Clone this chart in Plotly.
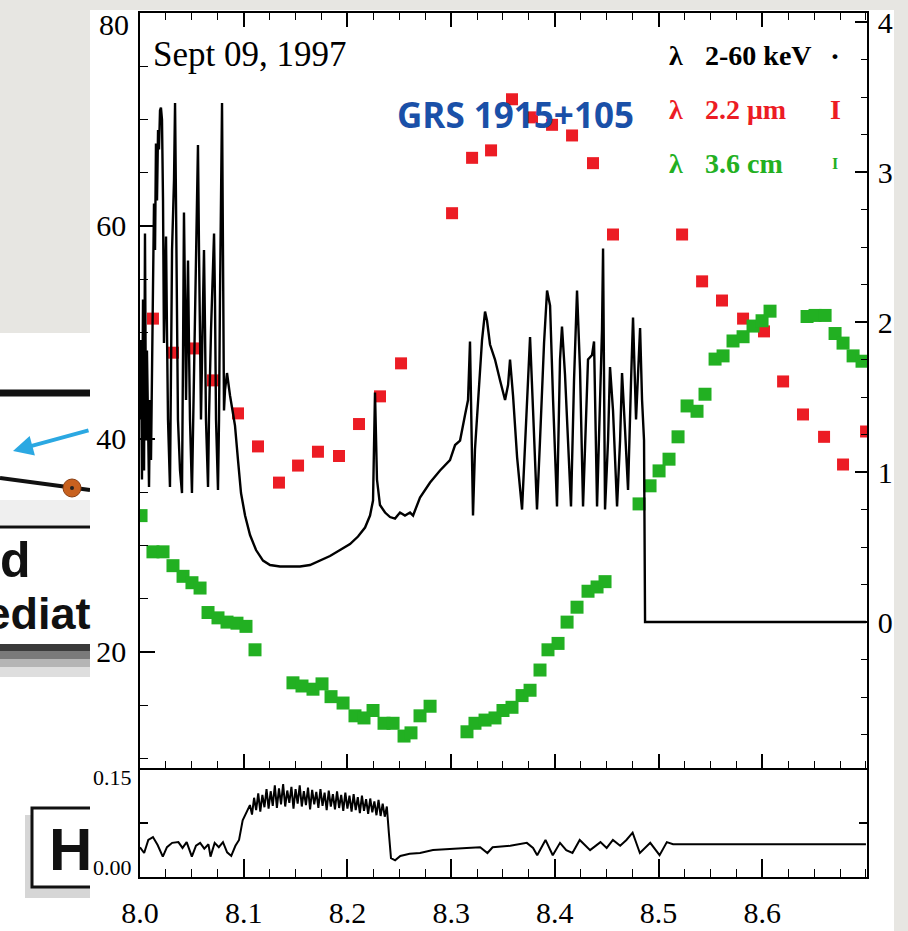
import plotly.graph_objects as go

# ---------------- data ----------------
# X-ray 2-60 keV count rate (right axis, 10^4 counts/s) vs UT hours
xray_t = [8.0000, 8.0010, 8.0019, 8.0029, 8.0039, 8.0048, 8.0058, 8.0067, 8.0087, 8.0096,
          8.0106, 8.0116, 8.0125, 8.0135, 8.0145, 8.0154, 8.0164, 8.0174, 8.0183, 8.0193,
          8.0202, 8.0212, 8.0222, 8.0231, 8.0241, 8.0251, 8.0260, 8.0270, 8.0289, 8.0299,
          8.0309, 8.0328, 8.0338, 8.0347, 8.0357, 8.0366, 8.0386, 8.0405, 8.0415, 8.0424,
          8.0434, 8.0444, 8.0453, 8.0463, 8.0473, 8.0482, 8.0501, 8.0511, 8.0530, 8.0550,
          8.0559, 8.0569, 8.0579, 8.0588, 8.0598, 8.0608, 8.0617, 8.0627, 8.0636, 8.0656,
          8.0665, 8.0685, 8.0704, 8.0714, 8.0723, 8.0733, 8.0752, 8.0762, 8.0771, 8.0781,
          8.0791, 8.0800, 8.0810, 8.0820, 8.0839,
          8.0868, 8.0916, 8.0945, 8.0974, 8.1013, 8.1061, 8.1119, 8.1186, 8.1254, 8.1350,
          8.1446, 8.1543, 8.1639, 8.1736, 8.1832, 8.1929, 8.2025, 8.2102, 8.2170, 8.2218,
          8.2247, 8.2266, 8.2285, 8.2314, 8.2363, 8.2411, 8.2459, 8.2507, 8.2555, 8.2604,
          8.2633, 8.2700, 8.2797, 8.2893, 8.2989, 8.3038, 8.3086, 8.3134, 8.3163, 8.3182,
          8.3192, 8.3211, 8.3230, 8.3259, 8.3298, 8.3327, 8.3346, 8.3375, 8.3423, 8.3472,
          8.3520, 8.3549, 8.3568, 8.3597, 8.3636, 8.3684, 8.3722, 8.3761, 8.3790, 8.3828,
          8.3857, 8.3896, 8.3925, 8.3954, 8.3983, 8.4021, 8.4050, 8.4069, 8.4098, 8.4127,
          8.4156, 8.4185, 8.4214, 8.4243, 8.4272, 8.4320, 8.4359, 8.4378, 8.4407, 8.4436,
          8.4455, 8.4465, 8.4474, 8.4484, 8.4513, 8.4532, 8.4561, 8.4600, 8.4629, 8.4648,
          8.4677, 8.4706, 8.4735, 8.4754, 8.4783, 8.4822, 8.4841, 8.4860, 8.4870, 8.7000]
xray_r = [1.35, 1.88, 0.95, 2.15, 1.01, 2.59, 1.21, 1.81, 0.90, 1.48,
          1.08, 1.95, 2.21, 2.79, 2.48, 3.19, 2.81, 3.28, 3.15, 3.41,
          3.43, 3.35, 2.81, 1.86, 2.15, 2.57, 1.95, 1.35, 0.90, 1.75,
          2.48, 2.95, 3.46, 2.81, 1.95, 1.35, 1.01, 0.86, 1.81, 2.73,
          2.15, 1.48, 1.95, 2.41, 1.81, 1.35, 0.86, 1.28, 2.15, 2.81,
          3.18, 2.48, 1.81, 1.35, 1.75, 2.15, 2.48, 1.95, 1.35, 0.90,
          1.35, 1.95, 2.41, 2.59, 2.15, 1.35, 0.88, 1.35, 2.15, 2.81,
          3.46, 2.48, 1.41, 1.55, 1.66,
          1.51, 1.31, 1.08, 0.86, 0.71, 0.58, 0.48, 0.41, 0.38, 0.37,
          0.37, 0.37, 0.38, 0.41, 0.44, 0.48, 0.52, 0.57, 0.63, 0.71,
          0.81, 1.53, 0.95, 0.78, 0.73, 0.70, 0.69, 0.73, 0.71, 0.73,
          0.71, 0.83, 0.93, 1.01, 1.08, 1.18, 1.21, 1.38, 1.48, 1.87,
          1.35, 0.71, 1.15, 1.48, 1.88, 2.07, 2.01, 1.85, 1.75, 1.61,
          1.48, 1.58, 1.75, 1.51, 1.10, 0.75, 1.35, 1.90, 1.41, 0.75,
          1.21, 1.86, 2.21, 2.11, 1.48, 0.77, 1.75, 1.97, 1.65, 1.15,
          0.77, 1.61, 2.21, 1.68, 0.77, 1.75, 1.78, 1.87, 0.77, 1.48,
          1.95, 2.49, 1.81, 0.75, 1.21, 1.70, 1.41, 0.77, 1.21, 1.66,
          1.28, 0.88, 1.61, 2.03, 1.35, 1.96, 1.48, 1.21, 0.00, 0.00]

# Infrared 2.2 micron flux (left axis, mJy)
ir_t = [8.0125, 8.0318, 8.0530, 8.0704, 8.0945, 8.1138, 8.1340, 8.1524, 8.1716, 8.1919,
        8.2112, 8.2314, 8.2517, 8.3009, 8.3202, 8.3385, 8.3587, 8.3780, 8.3973, 8.4166,
        8.4368, 8.4561, 8.5227, 8.5420, 8.5612, 8.5815, 8.6017, 8.6201, 8.6393, 8.6596,
        8.6779, 8.7001]
ir_v = [51.3, 48.1, 48.5, 45.5, 42.4, 39.3, 35.9, 37.5, 38.8, 38.4,
        41.4, 44.0, 47.1, 61.2, 66.4, 67.1, 71.9, 70.2, 69.5, 68.5,
        65.9, 59.2, 59.2, 54.8, 53.0, 51.3, 50.1, 45.4, 42.3, 40.2,
        37.6, 40.7]

# Radio 3.6 cm flux (left axis, mJy)
radio_t = [8.0010, 8.0125, 8.0222, 8.0318, 8.0415, 8.0501, 8.0579, 8.0656, 8.0752, 8.0839,
           8.0935, 8.1022, 8.1109, 8.1475, 8.1562, 8.1668, 8.1755, 8.1842, 8.1958, 8.2073,
           8.2160, 8.2247, 8.2353, 8.2440, 8.2546, 8.2613, 8.2700, 8.2797, 8.3153, 8.3230,
           8.3327, 8.3423, 8.3500, 8.3587, 8.3684, 8.3761, 8.3857, 8.3934, 8.4031, 8.4118,
           8.4214, 8.4320, 8.4407, 8.4484, 8.4812, 8.4918, 8.5005, 8.5101, 8.5188, 8.5275,
           8.5371, 8.5448, 8.5545, 8.5622, 8.5718, 8.5815, 8.5911, 8.5998, 8.6075, 8.6432,
           8.6509, 8.6606, 8.6702, 8.6779, 8.6876, 8.6962]
radio_v = [32.8, 29.4, 29.4, 28.1, 27.1, 26.5, 26.0, 23.7, 23.2, 22.8,
           22.7, 22.4, 20.2, 17.1, 16.8, 16.5, 17.0, 15.8, 15.2, 14.0,
           13.8, 14.5, 13.3, 13.3, 12.1, 12.4, 14.0, 14.9, 12.5, 13.3,
           13.6, 13.8, 14.5, 14.8, 15.9, 16.4, 18.3, 20.2, 20.8, 22.8,
           24.2, 25.7, 26.1, 26.6, 33.9, 35.6, 37.0, 38.1, 40.2, 43.1,
           42.6, 44.2, 47.5, 47.8, 49.2, 49.6, 50.6, 51.1, 52.0, 51.5,
           51.6, 51.6, 49.9, 49.0, 47.8, 47.3]

# X-ray hardness ratio (lower panel)
hr_t = [8.000, 8.004, 8.008, 8.0125, 8.017, 8.022, 8.026, 8.031, 8.037, 8.041,
        8.045, 8.050, 8.054, 8.058, 8.062, 8.066, 8.068, 8.072, 8.076, 8.080,
        8.084, 8.088, 8.092, 8.0955, 8.099, 8.103, 8.106,
        8.108, 8.110, 8.112, 8.114, 8.116, 8.118, 8.120, 8.122, 8.124, 8.126,
        8.128, 8.130, 8.132, 8.134, 8.136, 8.138, 8.140, 8.142, 8.144, 8.146,
        8.148, 8.150, 8.152, 8.154, 8.156, 8.158, 8.160, 8.162, 8.164, 8.166,
        8.168, 8.170, 8.172, 8.174, 8.176, 8.178, 8.180, 8.182, 8.184, 8.186,
        8.188, 8.190, 8.192, 8.194, 8.196, 8.198, 8.200, 8.202, 8.204, 8.206,
        8.208, 8.210, 8.212, 8.214, 8.216, 8.218, 8.220, 8.222, 8.224, 8.226,
        8.228, 8.230, 8.232, 8.234, 8.236, 8.238, 8.240, 8.242, 8.246, 8.251,
        8.260, 8.270, 8.2825, 8.299, 8.315, 8.328, 8.335, 8.340, 8.357, 8.373,
        8.379, 8.383, 8.391, 8.398, 8.405, 8.411, 8.417, 8.424, 8.434, 8.444,
        8.450, 8.456, 8.463, 8.469, 8.475, 8.482, 8.492, 8.501, 8.508, 8.514,
        8.700]
hr_v = [0.041, 0.033, 0.051, 0.055, 0.044, 0.028, 0.041, 0.047, 0.048, 0.040,
        0.048, 0.028, 0.043, 0.047, 0.039, 0.045, 0.028, 0.047, 0.041, 0.048,
        0.034, 0.029, 0.043, 0.051, 0.078, 0.089, 0.099,
        0.086, 0.109, 0.092, 0.115, 0.090, 0.113, 0.096, 0.121, 0.094, 0.118,
        0.098, 0.126, 0.095, 0.122, 0.100, 0.128, 0.097, 0.119, 0.102, 0.124,
        0.094, 0.121, 0.101, 0.126, 0.097, 0.118, 0.099, 0.123, 0.093, 0.120,
        0.100, 0.117, 0.095, 0.121, 0.098, 0.116, 0.092, 0.119, 0.097, 0.114,
        0.093, 0.118, 0.095, 0.113, 0.091, 0.116, 0.094, 0.112, 0.090, 0.114,
        0.092, 0.110, 0.088, 0.112, 0.091, 0.107, 0.087, 0.108, 0.089, 0.104,
        0.085, 0.106, 0.084, 0.101, 0.083, 0.097, 0.060, 0.026, 0.023, 0.029,
        0.032, 0.033, 0.037, 0.039, 0.040, 0.041, 0.033, 0.041, 0.043, 0.047,
        0.040, 0.030, 0.051, 0.030, 0.047, 0.037, 0.033, 0.051, 0.037, 0.048,
        0.040, 0.051, 0.043, 0.051, 0.061, 0.033, 0.047, 0.030, 0.048, 0.045,
        0.045]

x_tickvals = [8.0, 8.1, 8.2, 8.3, 8.4, 8.5, 8.6]
x_ticktext = ["8.0", "8.1", "8.2", "8.3", "8.4", "8.5", "8.6"]
left_tickvals = [20, 40, 60, 80]
left_ticktext = ["20", "40", "60", ""]
right_tickvals = [0, 1, 2, 3, 4]
right_ticktext = ["0", "1", "2", "3", "4"]
hr_tickvals = [0.0, 0.075, 0.15]

# ---------------- layout geometry helpers (pixels -> paper) ----------------
W, H = 908, 931
ML, MR, MT, MB = 140, 41, 13, 54
PW, PH = W - ML - MR, H - MT - MB
SPLIT = 109 / PH


def px(x):
    return (x - ML) / PW


def py(y):
    return (H - MB - y) / PH


SERIF = "Liberation Serif"
SANS = "Liberation Sans"
RED = "#ec1c24"
GREEN = "#22b022"
BG = "#e7e6e2"

fig = go.Figure()
fig.add_trace(go.Scatter(x=ir_t, y=ir_v, xaxis="x", yaxis="y", mode="markers",
                         marker=dict(symbol="square", size=12, color=RED, line=dict(width=0)),
                         showlegend=False))
fig.add_trace(go.Scatter(x=radio_t, y=radio_v, xaxis="x", yaxis="y", mode="markers",
                         marker=dict(symbol="square", size=13, color=GREEN, line=dict(width=0)),
                         showlegend=False))
fig.add_trace(go.Scatter(x=xray_t, y=xray_r, xaxis="x", yaxis="y2", mode="lines",
                         line=dict(color="black", width=2.4), showlegend=False))
fig.add_trace(go.Scatter(x=hr_t, y=hr_v, xaxis="x2", yaxis="y3", mode="lines",
                         line=dict(color="black", width=2.0), showlegend=False))

axis_common = dict(showgrid=False, zeroline=False, showline=True, linecolor="black",
                   linewidth=1.6, ticks="inside", tickcolor="black", tickwidth=1.6,
                   automargin=False)

fig.update_layout(
    template="none",
    width=W, height=H,
    margin=dict(l=ML, r=MR, t=MT, b=MB, pad=0, autoexpand=False),
    paper_bgcolor=BG, plot_bgcolor="white",
    showlegend=False,
    xaxis=dict(domain=[0, 1], anchor="y", range=[8.0, 8.701], tickmode="array",
               tickvals=x_tickvals, showticklabels=False, ticklen=14, mirror="ticks",
               minor=dict(ticks="inside", dtick=0.025, tick0=8.0, ticklen=7,
                          tickcolor="black", tickwidth=1.4),
               **axis_common),
    xaxis2=dict(domain=[0, 1], anchor="y3", matches="x", range=[8.0, 8.701],
                tickmode="array", tickvals=x_tickvals, ticktext=x_ticktext,
                ticklen=18, ticklabelstandoff=8,
                tickfont=dict(family=SERIF, size=30, color="black"),
                minor=dict(ticks="inside", dtick=0.025, tick0=8.0, ticklen=8,
                           tickcolor="black", tickwidth=1.4),
                **axis_common),
    yaxis=dict(domain=[SPLIT, 1], anchor="x", range=[9.1, 80], tickmode="array",
               tickvals=left_tickvals, ticktext=left_ticktext, ticklen=15,
               ticklabelstandoff=6,
               tickfont=dict(family=SERIF, size=30, color="black"),
               minor=dict(ticks="inside", dtick=5, tick0=0, ticklen=8,
                          tickcolor="black", tickwidth=1.4),
               **axis_common),
    yaxis2=dict(overlaying="y", side="right", anchor="x", range=[-0.973, 4.06],
                tickmode="array", tickvals=right_tickvals, ticktext=right_ticktext,
                ticklen=12, ticklabelstandoff=3,
                tickfont=dict(family=SERIF, size=30, color="black"),
                minor=dict(ticks="inside", dtick=0.25, tick0=0, ticklen=6,
                           tickcolor="black", tickwidth=1.4),
                **axis_common),
    yaxis3=dict(domain=[0, SPLIT], anchor="x2", range=[0, 0.15], tickmode="array",
                tickvals=hr_tickvals, showticklabels=False, ticklen=8, mirror="ticks",
                **axis_common),
)

shapes = []
# slide background pieces (left) and white scanned-figure panel
shapes.append(dict(type="rect", xref="paper", yref="paper", layer="below",
                   x0=px(0), x1=px(90), y0=py(333), y1=py(931),
                   fillcolor="white", line=dict(width=0)))
shapes.append(dict(type="rect", xref="paper", yref="paper", layer="below",
                   x0=px(0), x1=px(90), y0=py(500), y1=py(525),
                   fillcolor="#efefef", line=dict(width=0)))
shapes.append(dict(type="line", xref="paper", yref="paper", layer="below",
                   x0=px(0), x1=px(90), y0=py(393), y1=py(393),
                   line=dict(color="#111111", width=7)))
shapes.append(dict(type="line", xref="paper", yref="paper", layer="below",
                   x0=px(0), x1=px(90), y0=py(478), y1=py(490),
                   line=dict(color="#111111", width=4)))
shapes.append(dict(type="line", xref="paper", yref="paper", layer="below",
                   x0=px(0), x1=px(90), y0=py(527), y1=py(527),
                   line=dict(color="#111111", width=3)))
shapes.append(dict(type="circle", xref="paper", yref="paper", layer="below",
                   x0=px(63), x1=px(81), y0=py(479), y1=py(497),
                   fillcolor="#c8611f", line=dict(color="#8a3e12", width=1)))
shapes.append(dict(type="circle", xref="paper", yref="paper", layer="below",
                   x0=px(70), x1=px(74), y0=py(486), y1=py(490),
                   fillcolor="#222222", line=dict(width=0)))
for (ya, yb, col) in [(644, 651, "#3a3a3a"), (651, 659, "#7a7a7a"),
                      (659, 667, "#b5b5b5"), (667, 677, "#dedede")]:
    shapes.append(dict(type="rect", xref="paper", yref="paper", layer="below",
                       x0=px(0), x1=px(90), y0=py(yb), y1=py(ya),
                       fillcolor=col, line=dict(width=0)))
shapes.append(dict(type="rect", xref="paper", yref="paper", layer="below",
                   x0=px(25), x1=px(92), y0=py(898), y1=py(815),
                   fillcolor="#d6d6d6", line=dict(width=0)))
shapes.append(dict(type="rect", xref="paper", yref="paper", layer="below",
                   x0=px(32), x1=px(98), y0=py(887), y1=py(808),
                   fillcolor="white", line=dict(color="#111111", width=3)))
shapes.append(dict(type="rect", xref="paper", yref="paper", layer="below",
                   x0=px(90), x1=px(894), y0=py(931), y1=py(10),
                   fillcolor="white", line=dict(width=0)))
fig.update_layout(shapes=shapes)

ann = []
ann.append(dict(xref="paper", yref="paper", x=px(13), y=py(451), ax=77, ay=-21,
                axref="pixel", ayref="pixel", showarrow=True, arrowhead=2,
                arrowsize=1, arrowwidth=4, arrowcolor="#2ba8e2", text=""))
ann.append(dict(xref="paper", yref="paper", x=px(-2), y=py(560), xanchor="left",
                yanchor="middle", text="<b>d</b>", showarrow=False,
                font=dict(family=SANS, size=50, color="#111111")))
ann.append(dict(xref="paper", yref="paper", x=px(93), y=py(613), xanchor="right",
                yanchor="middle", text="<b>Intermediat</b>", showarrow=False,
                font=dict(family=SANS, size=45, color="#111111")))
ann.append(dict(xref="paper", yref="paper", x=px(47), y=py(849), xanchor="left",
                yanchor="middle", text="<b>H</b>", showarrow=False,
                font=dict(family=SANS, size=60, color="#111111")))
ann.append(dict(xref="paper", yref="paper", x=px(131), y=py(25), xanchor="right",
                yanchor="middle", text="80", showarrow=False,
                font=dict(family=SERIF, size=30, color="black")))
ann.append(dict(xref="paper", yref="paper", x=px(134), y=py(777), xanchor="right",
                yanchor="middle", text="0.15", showarrow=False,
                font=dict(family=SERIF, size=22, color="black")))
ann.append(dict(xref="paper", yref="paper", x=px(134), y=py(867), xanchor="right",
                yanchor="middle", text="0.00", showarrow=False,
                font=dict(family=SERIF, size=22, color="black")))
ann.append(dict(xref="paper", yref="paper", x=px(151), y=py(54), xanchor="left",
                yanchor="middle", text="Sept 09, 1997", showarrow=False,
                font=dict(family=SERIF, size=35, color="black")))
ann.append(dict(xref="paper", yref="paper", x=px(515), y=py(114), xanchor="center",
                yanchor="middle", text="<b>GRS 1915+105</b>", showarrow=False,
                font=dict(family="Open Sans", size=35, color="#1a50a8")))
legend_rows = [("2-60 keV", "black", 56, "·", 30),
               ("2.2 μm", RED, 110, "I", 28),
               ("3.6 cm", GREEN, 163, "I", 16)]
for label, col, yy, sym, ssz in legend_rows:
    ann.append(dict(xref="paper", yref="paper", x=px(676), y=py(yy), xanchor="center",
                    yanchor="middle", text="<b>λ</b>", showarrow=False,
                    font=dict(family=SERIF, size=28, color=col)))
    ann.append(dict(xref="paper", yref="paper", x=px(703), y=py(yy), xanchor="left",
                    yanchor="middle", text="<b>" + label + "</b>", showarrow=False,
                    font=dict(family=SERIF, size=28, color=col)))
    ann.append(dict(xref="paper", yref="paper", x=px(835), y=py(yy), xanchor="center",
                    yanchor="middle", text="<b>" + sym + "</b>", showarrow=False,
                    font=dict(family=SERIF, size=ssz, color=col)))
fig.update_layout(annotations=ann)

fig.write_html("out.html")
